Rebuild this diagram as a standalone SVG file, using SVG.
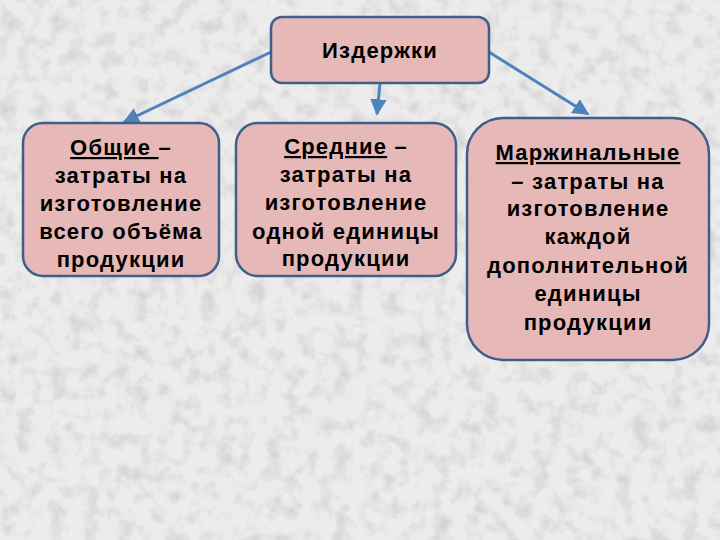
<svg xmlns="http://www.w3.org/2000/svg" width="720" height="540" viewBox="0 0 720 540">
<defs>
<style>
.box{fill:#e6b9b8;stroke:#3f5f8a;stroke-width:2.5}
.t{font-family:"Liberation Sans",Arial,sans-serif;font-weight:bold;font-size:22px;fill:#000;text-anchor:middle;letter-spacing:1.2px}
.u{text-decoration:underline}
.c{stroke:#4f81bd;stroke-width:3;fill:none;marker-end:url(#ah)}
</style>
<marker id="ah" viewBox="0 0 10 10" refX="9" refY="5" markerWidth="5.5" markerHeight="5.5" orient="auto" markerUnits="strokeWidth">
<path d="M0,0 L10,5 L0,10 z" fill="#4f81bd"/>
</marker>
<filter id="noise" x="0" y="0" width="100%" height="100%">
<feTurbulence type="fractalNoise" baseFrequency="0.06" numOctaves="4" seed="3"/>
<feColorMatrix type="matrix" values="0 0 0 0 0.5  0 0 0 0 0.5  0 0 0 0 0.5  2 0 0 0 -0.9"/>
</filter>
</defs>
<rect width="720" height="540" fill="#ececec"/>
<rect width="720" height="540" filter="url(#noise)" opacity="0.6"/>
<g id="connectors">
<line class="c" x1="271" y1="52" x2="124" y2="122"/>
<line class="c" x1="380" y1="83" x2="377" y2="114"/>
<line class="c" x1="489" y1="52" x2="588" y2="114"/>
</g>
<g id="n0">
<rect class="box" x="271" y="17" width="218" height="66" rx="11"/>
<text class="t" x="380" y="58">Издержки</text>
</g>
<g id="n1">
<rect class="box" x="23" y="123" width="196" height="153" rx="20"/>
<text class="t" x="121" y="155"><tspan class="u">Общие </tspan>–</text>
<text class="t" x="121" y="183">затраты на</text>
<text class="t" x="121" y="211">изготовление</text>
<text class="t" x="121" y="239">всего объёма</text>
<text class="t" x="121" y="267">продукции</text>
</g>
<g id="n2">
<rect class="box" x="236" y="123" width="220" height="153" rx="22"/>
<text class="t" x="346" y="154"><tspan class="u">Средние</tspan> –</text>
<text class="t" x="346" y="182">затраты на</text>
<text class="t" x="346" y="210">изготовление</text>
<text class="t" x="346" y="239">одной единицы</text>
<text class="t" x="346" y="266">продукции</text>
</g>
<g id="n3">
<rect class="box" x="467" y="118" width="242" height="242" rx="36"/>
<text class="t" x="588" y="160"><tspan class="u">Маржинальные</tspan></text>
<text class="t" x="588" y="189">– затраты на</text>
<text class="t" x="588" y="216">изготовление</text>
<text class="t" x="588" y="244">каждой</text>
<text class="t" x="588" y="273">дополнительной</text>
<text class="t" x="588" y="301">единицы</text>
<text class="t" x="588" y="330">продукции</text>
</g>
</svg>
